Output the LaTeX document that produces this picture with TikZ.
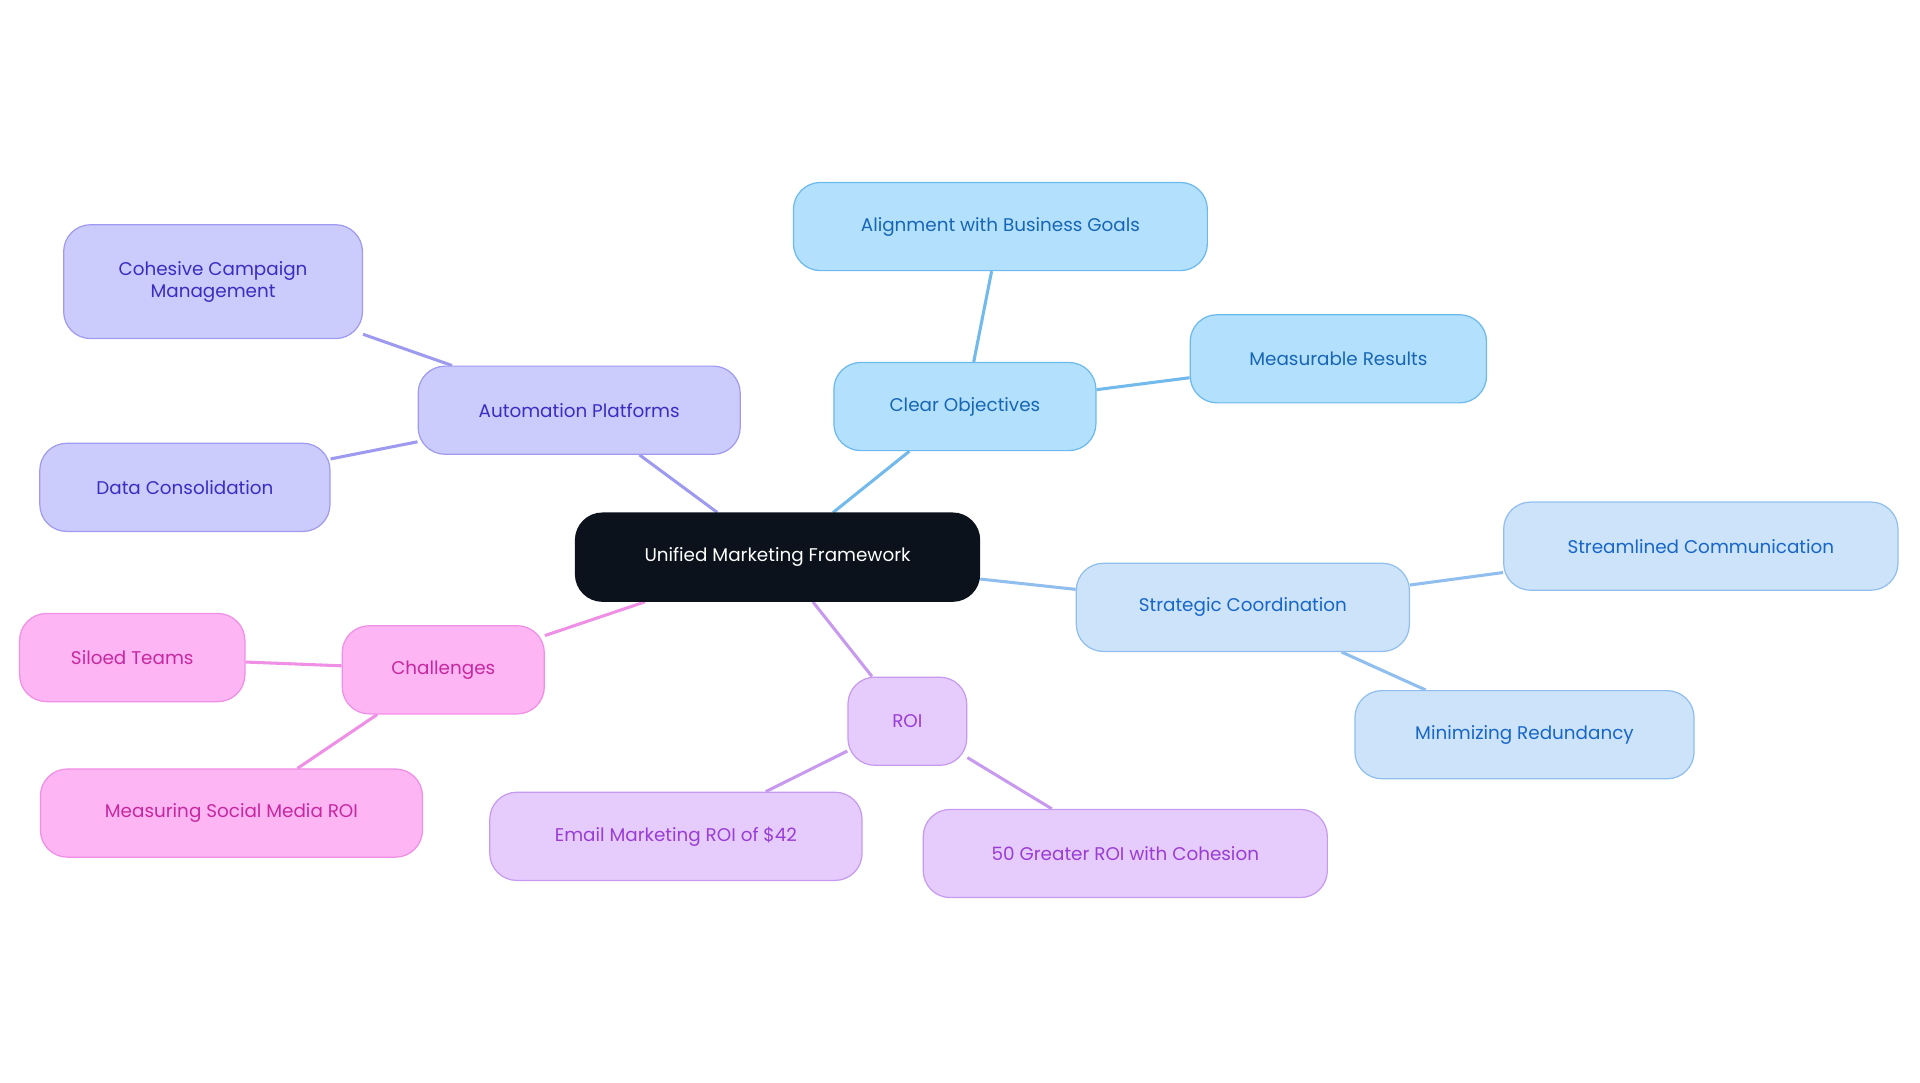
\documentclass[tikz,border=0pt]{standalone}
\usepackage{fontspec}
\setmainfont{Poppins}
\usetikzlibrary{backgrounds}
\definecolor{cF}{RGB}{179,224,253}\definecolor{cD}{RGB}{108,185,238}\definecolor{cT}{RGB}{23,102,181}\definecolor{cE}{RGB}{114,185,236}
\definecolor{sF}{RGB}{204,227,250}\definecolor{sD}{RGB}{144,191,239}\definecolor{sT}{RGB}{23,102,200}
\definecolor{rF}{RGB}{230,204,252}\definecolor{rD}{RGB}{199,154,240}\definecolor{rT}{RGB}{154,60,214}
\definecolor{pF}{RGB}{253,181,243}\definecolor{pD}{RGB}{240,143,230}\definecolor{pT}{RGB}{199,40,159}
\definecolor{aF}{RGB}{204,204,252}\definecolor{aD}{RGB}{160,154,240}\definecolor{aT}{RGB}{58,45,194}\definecolor{aE}{RGB}{157,154,240}
\definecolor{dk}{RGB}{11,18,27}
\begin{document}
\begin{tikzpicture}[x=1pt,y=-1pt,
 box/.style={rounded corners=22pt,draw,line width=1pt,minimum height=72pt,align=center,font=\fontsize{15}{18}\selectfont},
 cb/.style={box,fill=cF,draw=cD,text=cT},
 sb/.style={box,fill=sF,draw=sD,text=sT},
 rb/.style={box,fill=rF,draw=rD,text=rT},
 pb/.style={box,fill=pF,draw=pD,text=pT},
 ab/.style={box,fill=aF,draw=aD,text=aT},
 e/.style={line width=2.5pt}]
\useasboundingbox (0,0) rectangle (1568,884);
\node[box,fill=dk,draw=dk,text=white,minimum width=330pt] (c) at (635,455) {Unified Marketing Framework};
\node[cb,minimum width=214pt] (co) at (788,332) {Clear Objectives};
\node[cb,minimum width=338pt] (al) at (817,185) {Alignment with Business Goals};
\node[cb,minimum width=242pt] (me) at (1093,293) {Measurable Results};
\node[sb,minimum width=272pt] (sc) at (1015,496) {Strategic Coordination};
\node[sb,minimum width=322pt] (st) at (1389,446) {Streamlined Communication};
\node[sb,minimum width=277pt] (mi) at (1245,600) {Minimizing Redundancy};
\node[rb,minimum width=97pt] (roi) at (741,589) {ROI};
\node[rb,minimum width=304pt] (em) at (552,683) {Email Marketing ROI of \$42};
\node[rb,minimum width=330pt] (fg) at (919,697) {50 Greater ROI with Cohesion};
\node[pb,minimum width=165pt] (ch) at (362,547) {Challenges};
\node[pb,minimum width=184pt] (si) at (108,537) {Siloed Teams};
\node[pb,minimum width=312pt] (ms) at (189,664) {Measuring Social Media ROI};
\node[ab,minimum width=263pt] (ap) at (473,335) {Automation Platforms};
\node[ab,minimum width=244pt,minimum height=93pt] (cc) at (174,230) {Cohesive Campaign\\Management};
\node[ab,minimum width=237pt] (dc) at (151,398) {Data Consolidation};
\begin{scope}[on background layer]
\draw[e,cE] (c)--(co) (co)--(al) (co)--(me);
\draw[e,sD] (c)--(sc) (sc)--(st) (sc)--(mi);
\draw[e,rD] (c)--(roi) (roi)--(em) (roi)--(fg);
\draw[e,pD] (c)--(ch) (ch)--(si) (ch)--(ms);
\draw[e,aE] (c)--(ap) (ap)--(cc) (ap)--(dc);
\end{scope}
\end{tikzpicture}
\end{document}
